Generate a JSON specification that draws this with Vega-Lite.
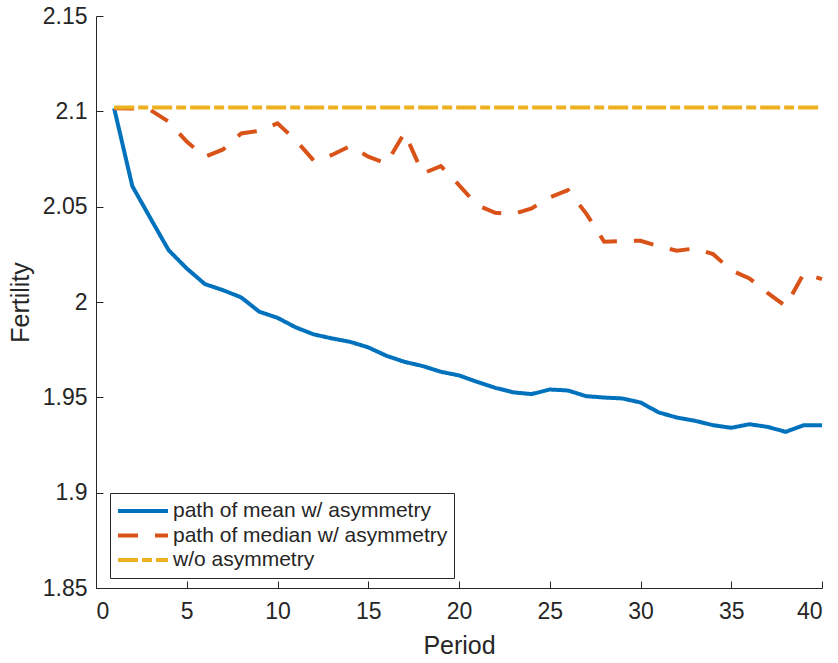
{
  "$schema": "https://vega.github.io/schema/vega-lite/v6.json",
  "width": 726,
  "height": 572,
  "autosize": {"type": "none"},
  "padding": {"left": 96, "top": 16, "right": 16, "bottom": 75},
  "background": "white",
  "config": {
    "view": {"stroke": null},
    "font": "Liberation Sans",
    "axis": {
      "domainColor": "#262626",
      "tickColor": "#262626",
      "labelColor": "#262626",
      "titleColor": "#262626",
      "labelFont": "Liberation Sans",
      "titleFont": "Liberation Sans",
      "labelFontSize": 23,
      "titleFontSize": 25,
      "titleFontWeight": "normal",
      "grid": false,
      "tickSize": -7,
      "domainWidth": 1,
      "tickWidth": 1
    }
  },
  "data": {
    "values": [
      {"t": 1, "s": "path of mean w/ asymmetry", "v": 2.1016},
      {"t": 2, "s": "path of mean w/ asymmetry", "v": 2.0608},
      {"t": 3, "s": "path of mean w/ asymmetry", "v": 2.0439},
      {"t": 4, "s": "path of mean w/ asymmetry", "v": 2.0272},
      {"t": 5, "s": "path of mean w/ asymmetry", "v": 2.0176},
      {"t": 6, "s": "path of mean w/ asymmetry", "v": 2.0094},
      {"t": 7, "s": "path of mean w/ asymmetry", "v": 2.0062},
      {"t": 8, "s": "path of mean w/ asymmetry", "v": 2.0024},
      {"t": 9, "s": "path of mean w/ asymmetry", "v": 1.9949},
      {"t": 10, "s": "path of mean w/ asymmetry", "v": 1.9917},
      {"t": 11, "s": "path of mean w/ asymmetry", "v": 1.9867},
      {"t": 12, "s": "path of mean w/ asymmetry", "v": 1.983},
      {"t": 13, "s": "path of mean w/ asymmetry", "v": 1.9809},
      {"t": 14, "s": "path of mean w/ asymmetry", "v": 1.9791},
      {"t": 15, "s": "path of mean w/ asymmetry", "v": 1.9762},
      {"t": 16, "s": "path of mean w/ asymmetry", "v": 1.9718},
      {"t": 17, "s": "path of mean w/ asymmetry", "v": 1.9686},
      {"t": 18, "s": "path of mean w/ asymmetry", "v": 1.9664},
      {"t": 19, "s": "path of mean w/ asymmetry", "v": 1.9634},
      {"t": 20, "s": "path of mean w/ asymmetry", "v": 1.9615},
      {"t": 21, "s": "path of mean w/ asymmetry", "v": 1.9581},
      {"t": 22, "s": "path of mean w/ asymmetry", "v": 1.955},
      {"t": 23, "s": "path of mean w/ asymmetry", "v": 1.9526},
      {"t": 24, "s": "path of mean w/ asymmetry", "v": 1.9517},
      {"t": 25, "s": "path of mean w/ asymmetry", "v": 1.9541},
      {"t": 26, "s": "path of mean w/ asymmetry", "v": 1.9536},
      {"t": 27, "s": "path of mean w/ asymmetry", "v": 1.9506},
      {"t": 28, "s": "path of mean w/ asymmetry", "v": 1.9499},
      {"t": 29, "s": "path of mean w/ asymmetry", "v": 1.9494},
      {"t": 30, "s": "path of mean w/ asymmetry", "v": 1.9473},
      {"t": 31, "s": "path of mean w/ asymmetry", "v": 1.9421},
      {"t": 32, "s": "path of mean w/ asymmetry", "v": 1.9394},
      {"t": 33, "s": "path of mean w/ asymmetry", "v": 1.9377},
      {"t": 34, "s": "path of mean w/ asymmetry", "v": 1.9354},
      {"t": 35, "s": "path of mean w/ asymmetry", "v": 1.934},
      {"t": 36, "s": "path of mean w/ asymmetry", "v": 1.9359},
      {"t": 37, "s": "path of mean w/ asymmetry", "v": 1.9345},
      {"t": 38, "s": "path of mean w/ asymmetry", "v": 1.9319},
      {"t": 39, "s": "path of mean w/ asymmetry", "v": 1.9354},
      {"t": 40, "s": "path of mean w/ asymmetry", "v": 1.9354},
      {"t": 1, "s": "path of median w/ asymmetry", "v": 2.1016},
      {"t": 2, "s": "path of median w/ asymmetry", "v": 2.1015},
      {"t": 3, "s": "path of median w/ asymmetry", "v": 2.1007},
      {"t": 4, "s": "path of median w/ asymmetry", "v": 2.0946},
      {"t": 5, "s": "path of median w/ asymmetry", "v": 2.0841},
      {"t": 6, "s": "path of median w/ asymmetry", "v": 2.0762},
      {"t": 7, "s": "path of median w/ asymmetry", "v": 2.08},
      {"t": 8, "s": "path of median w/ asymmetry", "v": 2.0884},
      {"t": 9, "s": "path of median w/ asymmetry", "v": 2.0898},
      {"t": 10, "s": "path of median w/ asymmetry", "v": 2.0937},
      {"t": 11, "s": "path of median w/ asymmetry", "v": 2.0849},
      {"t": 12, "s": "path of median w/ asymmetry", "v": 2.0741},
      {"t": 13, "s": "path of median w/ asymmetry", "v": 2.0771},
      {"t": 14, "s": "path of median w/ asymmetry", "v": 2.0818},
      {"t": 15, "s": "path of median w/ asymmetry", "v": 2.0762},
      {"t": 16, "s": "path of median w/ asymmetry", "v": 2.0727},
      {"t": 17, "s": "path of median w/ asymmetry", "v": 2.0888},
      {"t": 18, "s": "path of median w/ asymmetry", "v": 2.0674},
      {"t": 19, "s": "path of median w/ asymmetry", "v": 2.0713},
      {"t": 20, "s": "path of median w/ asymmetry", "v": 2.0613},
      {"t": 21, "s": "path of median w/ asymmetry", "v": 2.0508},
      {"t": 22, "s": "path of median w/ asymmetry", "v": 2.0468},
      {"t": 23, "s": "path of median w/ asymmetry", "v": 2.0461},
      {"t": 24, "s": "path of median w/ asymmetry", "v": 2.0491},
      {"t": 25, "s": "path of median w/ asymmetry", "v": 2.0549},
      {"t": 26, "s": "path of median w/ asymmetry", "v": 2.0587},
      {"t": 27, "s": "path of median w/ asymmetry", "v": 2.0465},
      {"t": 28, "s": "path of median w/ asymmetry", "v": 2.0316},
      {"t": 29, "s": "path of median w/ asymmetry", "v": 2.032},
      {"t": 30, "s": "path of median w/ asymmetry", "v": 2.0321},
      {"t": 31, "s": "path of median w/ asymmetry", "v": 2.0293},
      {"t": 32, "s": "path of median w/ asymmetry", "v": 2.0269},
      {"t": 33, "s": "path of median w/ asymmetry", "v": 2.0281},
      {"t": 34, "s": "path of median w/ asymmetry", "v": 2.0251},
      {"t": 35, "s": "path of median w/ asymmetry", "v": 2.0167},
      {"t": 36, "s": "path of median w/ asymmetry", "v": 2.0124},
      {"t": 37, "s": "path of median w/ asymmetry", "v": 2.0048},
      {"t": 38, "s": "path of median w/ asymmetry", "v": 1.9978},
      {"t": 39, "s": "path of median w/ asymmetry", "v": 2.015},
      {"t": 40, "s": "path of median w/ asymmetry", "v": 2.012},
      {"t": 1, "s": "w/o asymmetry", "v": 2.102},
      {"t": 2, "s": "w/o asymmetry", "v": 2.102},
      {"t": 3, "s": "w/o asymmetry", "v": 2.102},
      {"t": 4, "s": "w/o asymmetry", "v": 2.102},
      {"t": 5, "s": "w/o asymmetry", "v": 2.102},
      {"t": 6, "s": "w/o asymmetry", "v": 2.102},
      {"t": 7, "s": "w/o asymmetry", "v": 2.102},
      {"t": 8, "s": "w/o asymmetry", "v": 2.102},
      {"t": 9, "s": "w/o asymmetry", "v": 2.102},
      {"t": 10, "s": "w/o asymmetry", "v": 2.102},
      {"t": 11, "s": "w/o asymmetry", "v": 2.102},
      {"t": 12, "s": "w/o asymmetry", "v": 2.102},
      {"t": 13, "s": "w/o asymmetry", "v": 2.102},
      {"t": 14, "s": "w/o asymmetry", "v": 2.102},
      {"t": 15, "s": "w/o asymmetry", "v": 2.102},
      {"t": 16, "s": "w/o asymmetry", "v": 2.102},
      {"t": 17, "s": "w/o asymmetry", "v": 2.102},
      {"t": 18, "s": "w/o asymmetry", "v": 2.102},
      {"t": 19, "s": "w/o asymmetry", "v": 2.102},
      {"t": 20, "s": "w/o asymmetry", "v": 2.102},
      {"t": 21, "s": "w/o asymmetry", "v": 2.102},
      {"t": 22, "s": "w/o asymmetry", "v": 2.102},
      {"t": 23, "s": "w/o asymmetry", "v": 2.102},
      {"t": 24, "s": "w/o asymmetry", "v": 2.102},
      {"t": 25, "s": "w/o asymmetry", "v": 2.102},
      {"t": 26, "s": "w/o asymmetry", "v": 2.102},
      {"t": 27, "s": "w/o asymmetry", "v": 2.102},
      {"t": 28, "s": "w/o asymmetry", "v": 2.102},
      {"t": 29, "s": "w/o asymmetry", "v": 2.102},
      {"t": 30, "s": "w/o asymmetry", "v": 2.102},
      {"t": 31, "s": "w/o asymmetry", "v": 2.102},
      {"t": 32, "s": "w/o asymmetry", "v": 2.102},
      {"t": 33, "s": "w/o asymmetry", "v": 2.102},
      {"t": 34, "s": "w/o asymmetry", "v": 2.102},
      {"t": 35, "s": "w/o asymmetry", "v": 2.102},
      {"t": 36, "s": "w/o asymmetry", "v": 2.102},
      {"t": 37, "s": "w/o asymmetry", "v": 2.102},
      {"t": 38, "s": "w/o asymmetry", "v": 2.102},
      {"t": 39, "s": "w/o asymmetry", "v": 2.102},
      {"t": 40, "s": "w/o asymmetry", "v": 2.102}
    ]
  },
  "mark": {"type": "line", "strokeWidth": 4},
  "encoding": {
    "x": {
      "field": "t",
      "type": "quantitative",
      "scale": {"domain": [0, 40], "nice": false},
      "axis": {"values": [0, 5, 10, 15, 20, 25, 30, 35, 40], "title": "Period", "labelPadding": 19, "titlePadding": 10}
    },
    "y": {
      "field": "v",
      "type": "quantitative",
      "scale": {"domain": [1.85, 2.15], "nice": false, "zero": false},
      "axis": {"values": [1.85, 1.9, 1.95, 2, 2.05, 2.1, 2.15], "format": "~g", "title": "Fertility", "labelPadding": 16, "titlePadding": 9}
    },
    "color": {
      "field": "s",
      "type": "nominal",
      "scale": {"domain": ["path of mean w/ asymmetry", "path of median w/ asymmetry", "w/o asymmetry"], "range": ["#0072BD", "#D95319", "#EDB120"]},
      "legend": {"orient": "none", "legendX": 14, "legendY": 477, "title": null, "direction": "vertical", "symbolType": "stroke", "symbolSize": 2500, "symbolStrokeWidth": 4, "labelFontSize": 21, "labelFont": "Liberation Sans", "labelColor": "#262626", "strokeColor": "#262626", "fillColor": "white", "padding": 6, "clipHeight": 24, "rowPadding": 0.5, "labelOffset": 3, "labelLimit": 0}
    },
    "strokeDash": {
      "field": "s",
      "type": "nominal",
      "scale": {"domain": ["path of mean w/ asymmetry", "path of median w/ asymmetry", "w/o asymmetry"], "range": [[1, 0], [20, 17], [20, 4, 10, 4]]},
      "legend": {"orient": "none", "legendX": 14, "legendY": 477, "title": null, "direction": "vertical", "symbolType": "stroke", "symbolSize": 2500, "symbolStrokeWidth": 4, "labelFontSize": 21, "labelFont": "Liberation Sans", "labelColor": "#262626", "strokeColor": "#262626", "fillColor": "white", "padding": 6, "clipHeight": 24, "rowPadding": 0.5, "labelOffset": 3, "labelLimit": 0}
    }
  }
}
